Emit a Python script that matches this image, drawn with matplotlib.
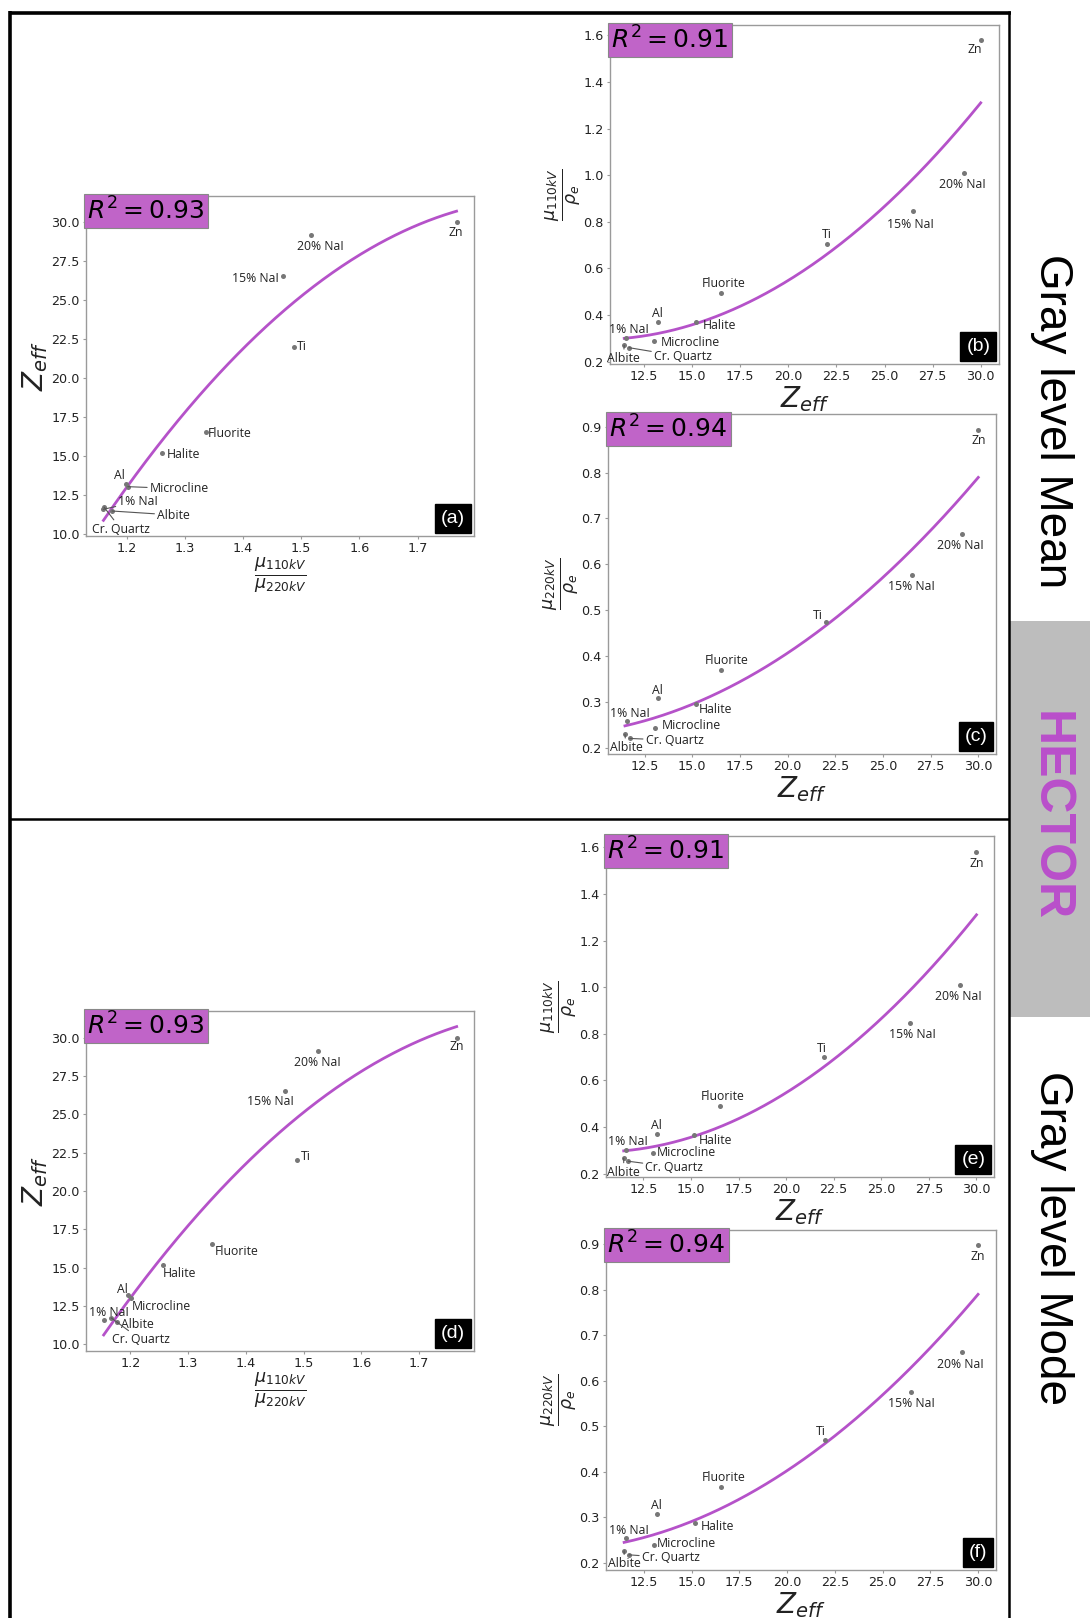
import numpy as np
import matplotlib
matplotlib.use("Agg")
import matplotlib.pyplot as plt
from matplotlib.offsetbox import AnchoredText
from matplotlib.lines import Line2D
from matplotlib.patches import Rectangle
from matplotlib.ticker import FormatStrFormatter
from matplotlib import font_manager

# ---------------- data ----------------
materials = ["Zn", "20% NaI", "15% NaI", "Ti", "Fluorite", "Halite",
             "Al", "Microcline", "1% NaI", "Albite", "Cr. Quartz"]
zeff = [30.0, 29.15, 26.5, 22.0, 16.52, 15.18, 13.2, 13.03, 11.58, 11.47, 11.72]

# gray level mean
mean_ratio = [1.767, 1.516, 1.469, 1.4875, 1.336, 1.261, 1.199, 1.202, 1.160, 1.175, 1.161]
mean_mu110_rho = [1.579, 1.0085, 0.846, 0.703, 0.493, 0.370, 0.370, 0.290, 0.300, 0.270, 0.260]
mean_mu220_rho = [0.894, 0.667, 0.577, 0.473, 0.369, 0.295, 0.309, 0.242, 0.259, 0.229, 0.220]

# gray level mode
mode_ratio = [1.765, 1.525, 1.468, 1.488, 1.341, 1.257, 1.196, 1.201, 1.154, 1.1775, 1.167]
mode_mu110_rho = [1.580, 1.0075, 0.846, 0.701, 0.492, 0.365, 0.370, 0.290, 0.300, 0.267, 0.253]
mode_mu220_rho = [0.897, 0.662, 0.576, 0.470, 0.367, 0.288, 0.308, 0.240, 0.256, 0.227, 0.218]

r2_values = {"a": 0.93, "b": 0.91, "c": 0.94, "d": 0.93, "e": 0.91, "f": 0.94}

# ---------------- style ----------------
LINE_COLOR = "#b552c9"
BOX_COLOR = "#c064c8"
DOT_COLOR = "#777777"
SPINE_COLOR = "#9a9a9a"
TEXT_COLOR = "#222222"
ANN_FONT = "Open Sans"

installed = {f.name for f in font_manager.fontManager.ttflist}
NARROW = "Liberation Sans Narrow" if "Liberation Sans Narrow" in installed else "Liberation Sans"

W, H = 1090, 1618
fig = plt.figure(figsize=(W / 100, H / 100), dpi=100)
fig.patch.set_facecolor("white")


def px_axes(x0, y0, x1, y1):
    """Axes from pixel box (left, top, right, bottom)."""
    return fig.add_axes([x0 / W, 1 - y1 / H, (x1 - x0) / W, (y1 - y0) / H])


# label layout: material -> (dx px, dy px, ha, leader line)
layout_a = {
    "Zn": (-1, -11, "center", False), "20% NaI": (10, -11, "center", False),
    "15% NaI": (-4, -2, "right", False), "Ti": (3, 0, "left", False),
    "Fluorite": (2, -1, "left", False), "Halite": (5, -1, "left", False),
    "Al": (-7, 9, "center", False), "Microcline": (22, -2, "left", True),
    "1% NaI": (15, 8, "left", True), "Albite": (45, -4, "left", True),
    "Cr. Quartz": (-12, -22, "left", True),
}
layout_b = {
    "Zn": (-6, -9, "center", False), "20% NaI": (-2, -11, "center", False),
    "15% NaI": (-3, -13, "center", False), "Ti": (0, 10, "center", False),
    "Fluorite": (2, 10, "center", False), "Halite": (7, -3, "left", False),
    "Al": (0, 9, "center", False), "1% NaI": (3, 9, "center", False),
    "Microcline": (7, -2, "left", False), "Albite": (-1, -13, "center", True),
    "Cr. Quartz": (25, -9, "left", True),
}
layout_c = {
    "Zn": (0, -11, "center", False), "20% NaI": (-2, -12, "center", False),
    "15% NaI": (0, -12, "center", False), "Ti": (-8, 7, "center", False),
    "Fluorite": (5, 10, "center", False), "Al": (-1, 7, "center", False),
    "Halite": (3, -5, "left", False), "1% NaI": (3, 7, "center", False),
    "Microcline": (7, 3, "left", False), "Albite": (1, -13, "center", True),
    "Cr. Quartz": (16, -2, "left", True),
}
layout_d = {
    "Zn": (0, -9, "center", False), "20% NaI": (-1, -12, "center", False),
    "15% NaI": (-15, -10, "center", False), "Ti": (4, 4, "left", False),
    "Fluorite": (3, -7, "left", False), "Halite": (0, -9, "left", False),
    "Al": (-6, 6, "center", False), "Microcline": (1, -9, "left", False),
    "1% NaI": (5, 8, "center", False), "Cr. Quartz": (1, -22, "left", True),
    "Albite": (4, -3, "left", False),
}
layout_e = {
    "Zn": (0, -12, "center", False), "20% NaI": (-2, -11, "center", False),
    "15% NaI": (3, -11, "center", False), "Ti": (-2, 8, "center", False),
    "Fluorite": (3, 9, "center", False), "Halite": (4, -5, "left", False),
    "Al": (0, 8, "center", False), "1% NaI": (2, 9, "center", False),
    "Microcline": (3, 0, "left", False), "Albite": (0, -14, "center", True),
    "Cr. Quartz": (17, -6, "left", True),
}
layout_f = {
    "Zn": (0, -11, "center", False), "20% NaI": (-1, -12, "center", False),
    "15% NaI": (0, -12, "center", False), "Ti": (-4, 8, "center", False),
    "Fluorite": (3, 9, "center", False), "Al": (-1, 8, "center", False),
    "Halite": (6, -4, "left", False), "1% NaI": (3, 7, "center", False),
    "Microcline": (3, 1, "left", False), "Albite": (0, -13, "center", True),
    "Cr. Quartz": (13, -3, "left", True),
}

LBL_RATIO = r"$\frac{\mu_{110kV}}{\mu_{220kV}}$"
LBL_Z = r"$Z_{eff}$"
LBL_110 = r"$\frac{\mu_{110kV}}{\rho_e}$"
LBL_220 = r"$\frac{\mu_{220kV}}{\rho_e}$"


def set_label(axis_setter, text):
    if text == LBL_Z:
        axis_setter(text, fontsize=20, labelpad=1, color=TEXT_COLOR)
    else:
        axis_setter(text, fontsize=18, labelpad=0, color=TEXT_COLOR)


def draw_panel(box, x, y, tag, layout, xlabel, ylabel, xlim, ylim, xticks, yticks):
    ax = px_axes(*box)
    x = np.asarray(x)
    y = np.asarray(y)

    # second-order least-squares fit over the measured range
    coef = np.polyfit(x, y, 2)
    xs = np.linspace(x.min(), x.max(), 300)
    ax.plot(xs, np.polyval(coef, xs), color=LINE_COLOR, lw=2.0, zorder=2)
    ax.scatter(x, y, s=13, color=DOT_COLOR, linewidths=0, zorder=3)

    for name, xi, yi in zip(materials, x, y):
        dx, dy, ha, leader = layout[name]
        kw = {}
        if leader:
            kw["arrowprops"] = dict(arrowstyle="-", color="#555555", lw=0.8,
                                    shrinkA=0, shrinkB=0)
        ax.annotate(name, xy=(xi, yi), xytext=(dx, dy), textcoords="offset pixels",
                    ha=ha, va="center", fontsize=8.8, family=ANN_FONT,
                    color=TEXT_COLOR, zorder=4, **kw)

    ax.set_xlim(*xlim)
    ax.set_ylim(*ylim)
    ax.set_xticks(xticks)
    ax.set_yticks(yticks)
    ax.xaxis.set_major_formatter(FormatStrFormatter("%.1f"))
    ax.yaxis.set_major_formatter(FormatStrFormatter("%.1f"))
    ax.tick_params(length=2.5, width=0.8, color=SPINE_COLOR, labelsize=9.2,
                   labelcolor=TEXT_COLOR, pad=2)
    for sp in ax.spines.values():
        sp.set_color(SPINE_COLOR)
        sp.set_linewidth(1.0)
    set_label(ax.set_xlabel, xlabel)
    set_label(ax.set_ylabel, ylabel)

    r2 = AnchoredText(r"$R^2 = %.2f$" % r2_values[tag], loc="upper left",
                      pad=0.05, borderpad=0, prop=dict(size=18, color="black"),
                      frameon=True)
    r2.patch.set_facecolor(BOX_COLOR)
    r2.patch.set_edgecolor("#888888")
    r2.patch.set_linewidth(0.8)
    r2.patch.set_boxstyle("square,pad=0.1")
    r2.zorder = 5
    ax.add_artist(r2)

    tag_box = AnchoredText("(%s)" % tag, loc="lower right", pad=0.3, borderpad=0.15,
                           prop=dict(size=14, color="white", family="Liberation Sans"),
                           frameon=True)
    tag_box.patch.set_facecolor("black")
    tag_box.patch.set_edgecolor("black")
    tag_box.patch.set_boxstyle("square,pad=0")
    tag_box.zorder = 5
    ax.add_artist(tag_box)
    return ax


ratio_ticks = [1.2, 1.3, 1.4, 1.5, 1.6, 1.7]
z_ticks = [12.5, 15.0, 17.5, 20.0, 22.5, 25.0, 27.5, 30.0]
zeff_ticks = [10.0, 12.5, 15.0, 17.5, 20.0, 22.5, 25.0, 27.5, 30.0]
mu110_ticks = [0.2, 0.4, 0.6, 0.8, 1.0, 1.2, 1.4, 1.6]
mu220_ticks = [0.2, 0.3, 0.4, 0.5, 0.6, 0.7, 0.8, 0.9]

draw_panel((86, 196, 474, 536), mean_ratio, zeff, "a", layout_a, LBL_RATIO, LBL_Z,
           (1.130, 1.797), (9.87, 31.65), ratio_ticks, zeff_ticks)
draw_panel((610, 25, 999, 364), zeff, mean_mu110_rho, "b", layout_b, LBL_Z, LBL_110,
           (10.73, 30.95), (0.190, 1.644), z_ticks, mu110_ticks)
draw_panel((608, 414, 996, 754), zeff, mean_mu220_rho, "c", layout_c, LBL_Z, LBL_220,
           (10.58, 30.93), (0.186, 0.928), z_ticks, mu220_ticks)
draw_panel((86, 1011, 474, 1351), mode_ratio, zeff, "d", layout_d, LBL_RATIO, LBL_Z,
           (1.1234, 1.795), (9.56, 31.74), ratio_ticks, zeff_ticks)
draw_panel((606, 836, 994, 1177), zeff, mode_mu110_rho, "e", layout_e, LBL_Z, LBL_110,
           (10.54, 30.92), (0.1855, 1.6486), z_ticks, mu110_ticks)
draw_panel((606, 1230, 996, 1570), zeff, mode_mu220_rho, "f", layout_f, LBL_Z, LBL_220,
           (10.52, 30.94), (0.1847, 0.9307), z_ticks, mu220_ticks)


# ---------------- frame and side captions ----------------
def fx(px):
    return px / W


def fy(py):
    return 1 - py / H


fig.add_artist(Rectangle((fx(1010), fy(1017)), fx(W) - fx(1010), fy(621) - fy(1017),
                         transform=fig.transFigure, facecolor="#bdbdbd",
                         edgecolor="none", zorder=0))
frame = dict(color="black", transform=fig.transFigure, solid_capstyle="butt")
fig.add_artist(Line2D([fx(10), fx(10)], [fy(10.5), fy(H)], lw=2.6, **frame))
fig.add_artist(Line2D([fx(8.5), fx(1010.5)], [fy(12.5), fy(12.5)], lw=2.6, **frame))
fig.add_artist(Line2D([fx(1009), fx(1009)], [fy(11), fy(H)], lw=1.8, **frame))
fig.add_artist(Line2D([fx(10), fx(1009)], [fy(819), fy(819)], lw=1.8, **frame))

fig.text(fx(1052), fy(421), "Gray level Mean", rotation=-90, ha="center", va="center",
         fontsize=33, family="Liberation Sans", color="black")
hector_size = 44 if NARROW != "Liberation Sans" else 36
fig.text(fx(1050), fy(816), "HECTOR", rotation=-90, ha="center", va="center",
         fontsize=hector_size, family=NARROW, weight="bold", color="#b94fcb")
fig.text(fx(1052), fy(1238), "Gray level Mode", rotation=-90, ha="center", va="center",
         fontsize=33, family="Liberation Sans", color="black")

fig.savefig("out.png", dpi=100)
